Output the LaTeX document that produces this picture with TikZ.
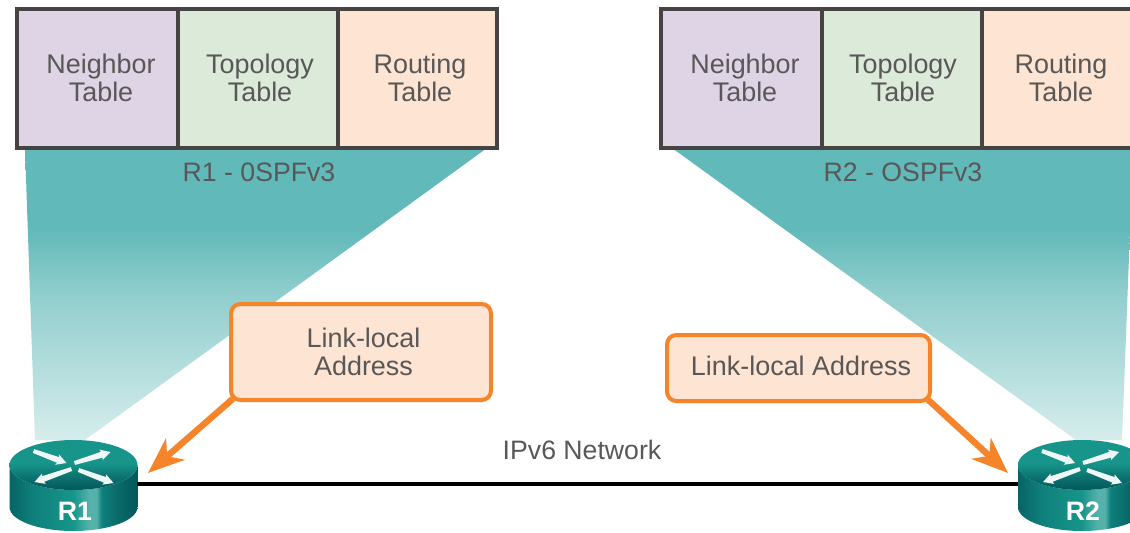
\documentclass[tikz,border=0pt]{standalone}
\usepackage{fontspec}
\setmainfont{Liberation Sans}
\usetikzlibrary{arrows.meta,positioning}
\definecolor{txt}{HTML}{595757}
\definecolor{frame}{HTML}{474343}
\definecolor{lilac}{HTML}{DFD4E6}
\definecolor{mint}{HTML}{DBEAD9}
\definecolor{peach}{HTML}{FEE5D3}
\definecolor{orng}{HTML}{F6842A}
\definecolor{funtop}{HTML}{62B9B9}
\definecolor{funbot}{HTML}{D6EDEC}
\definecolor{rdark}{HTML}{04585A}
\definecolor{rmid}{HTML}{0F807C}
\definecolor{rlight}{HTML}{55B2AB}
\definecolor{rtop}{HTML}{17958A}
\pgfdeclarehorizontalshading{routerside}{100bp}{
  color(0bp)=(rdark!70!rmid); color(25bp)=(rdark!70!rmid); color(34bp)=(rmid); color(50bp)=(rtop);
  color(56bp)=(rlight); color(59bp)=(rlight); color(61bp)=(rmid); color(68bp)=(rdark!60!rmid);
  color(75bp)=(rdark); color(100bp)=(rdark)}
\pgfdeclareverticalshading{routertop}{100bp}{
  color(0bp)=(rdark); color(25bp)=(rdark); color(37bp)=(rdark!40!rmid); color(52bp)=(rtop);
  color(75bp)=(rtop); color(100bp)=(rtop)}
\pgfdeclareverticalshading{funnelfade}{100bp}{
  color(0bp)=(funbot); color(25bp)=(funbot); color(50bp)=(funtop!60!funbot);
  color(61bp)=(funtop); color(75bp)=(funtop); color(100bp)=(funtop)}
\tikzset{
  tablecell/.style={draw=frame,line width=2.6pt,minimum width=120pt,minimum height=104.25pt,
    inner sep=0pt,font=\fontsize{20.2}{21.5}\selectfont,text=txt,align=center},
  celltext/.style={inner sep=0pt,font=\fontsize{20.2}{21.5}\selectfont,text=txt,align=center},
  capt/.style={font=\fontsize{20}{21}\selectfont,text=txt,inner sep=0pt},
  callout/.style={draw=orng,fill=peach,line width=3pt,rounded corners=7pt,inner sep=0pt},
  pointer/.style={draw=orng,line width=4.8pt,
    -{Stealth[length=27pt,width=21pt,inset=8pt,fill=orng]}},
  routerbox/.style={minimum width=95.25pt,minimum height=67.5pt,inner sep=0pt},
  rlabel/.style={font=\fontsize{20}{22}\bfseries\selectfont,text=white,inner sep=0pt},
  link/.style={draw=black,line width=2.3pt},
  funnel/.style={shade,shading=funnelfade,draw=none},
}
\newcommand{\rarrow}[4]{%
  \pgfmathsetmacro{\dxx}{#3-#1}\pgfmathsetmacro{\dyy}{#4-#2}
  \pgfmathsetmacro{\lenn}{sqrt(\dxx*\dxx+\dyy*\dyy)}
  \pgfmathsetmacro{\ux}{\dxx/\lenn}\pgfmathsetmacro{\uy}{\dyy/\lenn}
  \fill[white!93!rmid]
    (#1-2*\uy,#2+2*\ux) --
    (#3-9*\ux-3*\uy,#4-9*\uy+3*\ux) --
    (#3-10*\ux-5.5*\uy,#4-10*\uy+5.5*\ux) --
    (#3,#4) --
    (#3-10*\ux+5.5*\uy,#4-10*\uy-5.5*\ux) --
    (#3-9*\ux+3*\uy,#4-9*\uy-3*\ux) --
    (#1+2*\uy,#2-2*\ux) -- cycle;}
\newcommand{\routericon}[1]{%
  \begin{scope}[shift={(#1,0)}]
    \path[shade,shading=routerside]
      (-64,465) -- (-64,507) arc[start angle=180,end angle=0,x radius=64,y radius=24] -- (64,465)
      arc[start angle=0,end angle=180,x radius=64,y radius=25] -- cycle;
    \path[shade,shading=routertop]
      (0,465) ellipse[x radius=64,y radius=25];
    \rarrow{-40}{451}{-7}{463}
    \rarrow{1}{463}{37}{452}
    \rarrow{-2}{469}{-39}{482}
    \rarrow{5}{470}{40}{483}
  \end{scope}}
\begin{document}
\begin{tikzpicture}[x=0.75pt,y=-0.75pt]
  \useasboundingbox (0,0) rectangle (1130,532);
  \clip (0,0) rectangle (1130,532);
  \fill[white] (0,0) rectangle (1130,532);

  % funnels
  \path[funnel] (25,148) -- (487,148) -- (85,440) -- (35,440) -- cycle;
  \path[funnel] (672,148) -- (1135,148) -- (1130,230) -- (1122,440) -- (1076,440) -- cycle;

  % tables
  \node[tablecell,fill=lilac,minimum width=120.75pt] (n1) at (97.5,78.5) {};
  \node[tablecell,fill=mint] (t1) at (258,78.5) {};
  \node[tablecell,fill=peach,minimum width=119.25pt] (p1) at (417.5,78.5) {};
  \node[tablecell,fill=lilac,minimum width=120.75pt] (n2) at (741.5,78.5) {};
  \node[tablecell,fill=mint] (t2) at (902,78.5) {};
  \node[tablecell,fill=peach,minimum width=120pt] (p2) at (1062,78.5) {};
  \node[celltext] (tn1) at (101,78) {Neighbor\\Table};
  \node[celltext] (tt1) at (260,78) {Topology\\Table};
  \node[celltext] (tp1) at (420,78) {Routing\\Table};
  \node[celltext] (tn2) at (745,78) {Neighbor\\Table};
  \node[celltext] (tt2) at (903,78) {Topology\\Table};
  \node[celltext] (tp2) at (1061,78) {Routing\\Table};

  \node[capt] (c1) at (259,172) {R1 - 0SPFv3};
  \node[capt] (c2) at (903,172) {R2 - OSPFv3};

  % routers
  \routericon{73.5}
  \routericon{1082}
  \node[routerbox] (r1) at (73.5,484) {};
  \node[routerbox] (r2) at (1082,484) {};
  \node[rlabel] (l1) at (75,511) {R1};
  \node[rlabel] (l2) at (1083,511) {R2};

  % link
  \draw[link] (r1.east) -- (r2.west);
  \node[capt] (net) at (582,450) {IPv6 Network};

  % callouts
  \coordinate (a1) at (148,473);
  \coordinate (a2) at (1008,473);
  \node[callout,minimum width=195pt,minimum height=72pt] (b1) at (361,352) {};
  \node[callout,minimum width=197.25pt,minimum height=49.5pt] (b2) at (798.5,368) {};
  \draw[pointer] ([shift={(3pt,2.5pt)}]b1.south west) -- (a1);
  \draw[pointer] ([shift={(-3pt,2.5pt)}]b2.south east) -- (a2);
  \node[celltext] (tb1) at (363.5,352) {Link-local\\Address};
  \node[celltext] (tb2) at (801,366) {Link-local Address};
\end{tikzpicture}
\end{document}
